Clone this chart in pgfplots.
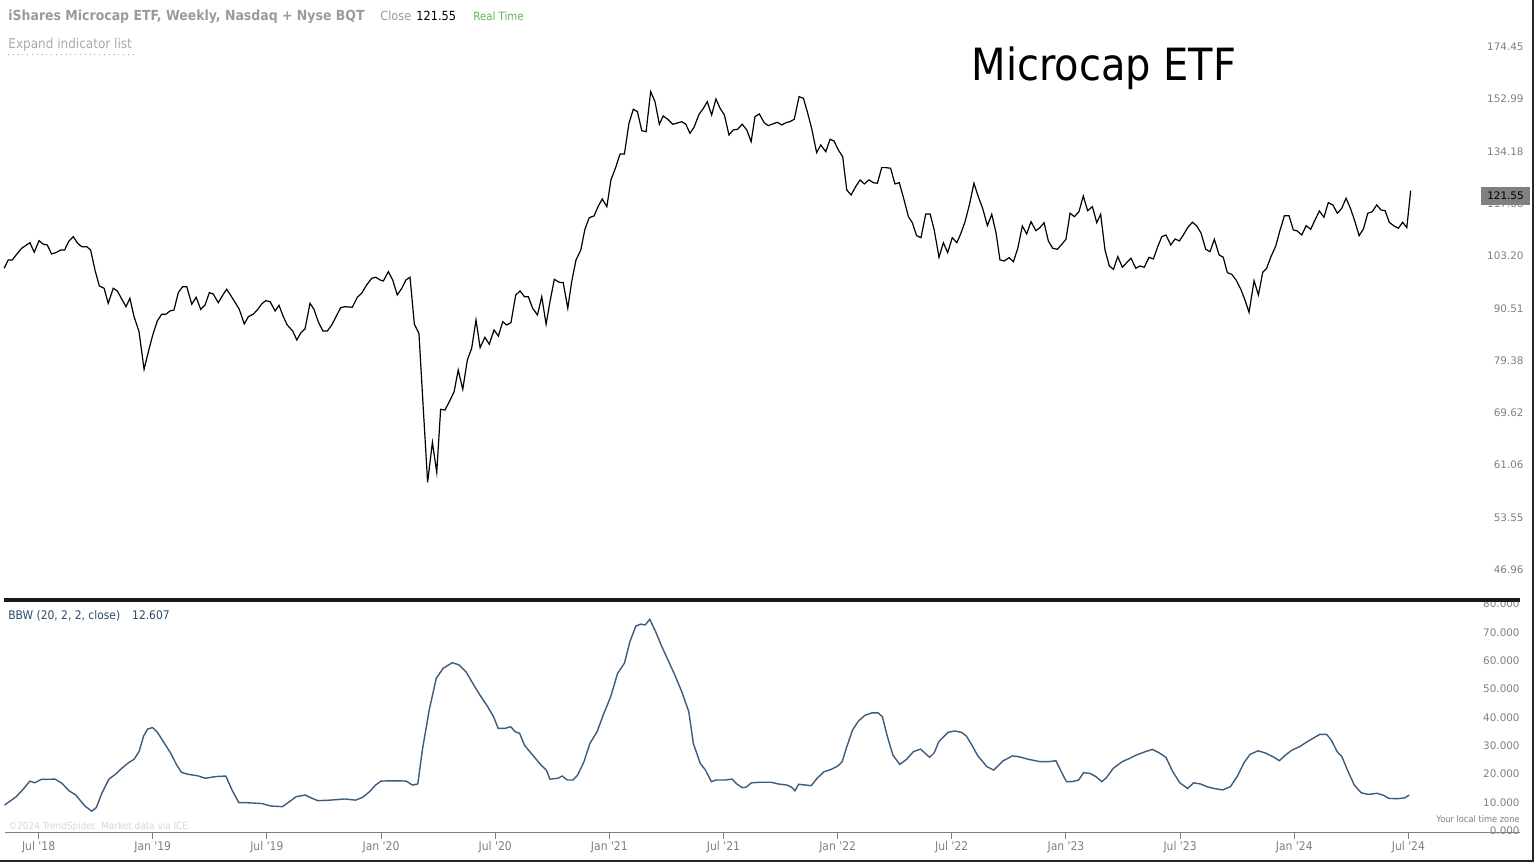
\documentclass[border=0pt]{standalone}
\usepackage{fontspec}
\setmainfont{DejaVu Sans}
\newfontfamily\cond{DejaVu Sans Condensed}
\usepackage{pgfplots}
\pgfplotsset{compat=1.18}
\usepackage{pgfplotstable}
\definecolor{lblgray}{RGB}{128,128,128}
\definecolor{hdrgray}{RGB}{155,155,155}
\definecolor{expgray}{RGB}{170,170,170}
\definecolor{bbwblue}{RGB}{60,92,125}
\definecolor{bbwtext}{RGB}{45,75,105}
\definecolor{rtgreen}{RGB}{100,180,90}
\definecolor{boxgray}{RGB}{128,128,128}
\definecolor{copygray}{RGB}{215,215,215}
\pgfplotstableread{
t p
2018.349 100.06
2018.367 102.17
2018.385 102.17
2018.404 103.64
2018.426 105.21
2018.462 106.70
2018.481 104.16
2018.502 107.24
2018.521 106.28
2018.538 106.09
2018.557 103.72
2018.576 104.06
2018.597 104.77
2018.614 104.77
2018.633 107.16
2018.652 108.32
2018.671 106.54
2018.689 105.64
2018.711 105.64
2018.728 104.77
2018.747 99.64
2018.766 95.72
2018.787 95.17
2018.805 91.65
2018.827 95.17
2018.845 94.52
2018.864 92.64
2018.883 90.87
2018.900 92.81
2018.918 88.62
2018.940 85.35
2018.962 77.66
2018.981 81.17
2019.000 84.64
2019.020 87.67
2019.039 89.15
2019.057 89.15
2019.076 89.90
2019.093 90.12
2019.112 94.12
2019.131 95.55
2019.149 95.55
2019.171 91.42
2019.190 93.04
2019.210 90.28
2019.229 91.26
2019.248 94.12
2019.265 93.81
2019.287 91.79
2019.307 93.58
2019.324 94.93
2019.343 93.34
2019.363 91.65
2019.379 90.28
2019.401 87.01
2019.419 88.62
2019.441 89.22
2019.458 90.12
2019.477 91.49
2019.495 92.25
2019.514 92.02
2019.536 89.90
2019.553 91.19
2019.572 88.62
2019.589 86.79
2019.613 85.49
2019.631 83.59
2019.649 85.13
2019.667 85.93
2019.689 91.65
2019.706 90.28
2019.725 87.51
2019.745 85.49
2019.765 85.49
2019.784 86.79
2019.803 88.62
2019.823 90.64
2019.842 90.87
2019.874 90.73
2019.896 93.04
2019.915 93.98
2019.937 95.96
2019.959 97.58
2019.977 97.83
2019.996 97.17
2020.010 96.92
2020.032 99.21
2020.051 97.17
2020.071 93.58
2020.091 95.17
2020.109 97.17
2020.127 97.83
2020.146 86.94
2020.166 85.00
2020.185 70.42
2020.204 58.49
2020.225 64.66
2020.244 59.97
2020.261 70.24
2020.280 70.12
2020.299 71.59
2020.320 73.41
2020.338 77.52
2020.358 73.86
2020.378 79.49
2020.397 81.86
2020.416 87.89
2020.434 81.99
2020.455 84.15
2020.474 82.69
2020.495 85.71
2020.514 84.43
2020.533 87.51
2020.550 86.79
2020.569 87.29
2020.590 93.58
2020.609 94.52
2020.628 93.18
2020.645 93.18
2020.664 90.51
2020.685 89.00
2020.704 93.18
2020.723 86.94
2020.740 92.02
2020.759 97.34
2020.780 96.61
2020.798 96.51
2020.818 90.51
2020.835 96.75
2020.854 102.17
2020.875 104.77
2020.893 110.35
2020.912 113.61
2020.933 114.10
2020.952 117.00
2020.969 119.07
2020.989 116.79
2021.007 124.89
2021.028 128.93
2021.047 133.30
2021.066 133.30
2021.086 143.98
2021.105 149.13
2021.123 148.23
2021.142 141.33
2021.161 140.97
2021.181 155.86
2021.200 152.00
2021.219 143.62
2021.236 146.64
2021.256 145.43
2021.278 143.62
2021.295 143.98
2021.317 144.56
2021.335 143.62
2021.353 140.41
2021.371 142.54
2021.393 147.27
2021.412 149.50
2021.429 152.00
2021.448 147.01
2021.467 153.03
2021.485 149.50
2021.504 147.01
2021.524 139.81
2021.543 141.58
2021.562 141.83
2021.582 143.62
2021.602 141.58
2021.621 137.48
2021.638 146.38
2021.657 147.38
2021.678 144.20
2021.696 143.11
2021.716 143.73
2021.736 144.34
2021.755 143.37
2021.774 144.20
2021.791 144.56
2021.810 145.43
2021.831 153.92
2021.850 153.30
2021.867 148.23
2021.886 142.18
2021.908 133.74
2021.926 136.35
2021.948 134.07
2021.967 138.31
2021.984 137.72
2022.003 134.65
2022.022 132.40
2022.040 121.79
2022.059 120.27
2022.079 122.80
2022.098 124.89
2022.117 123.64
2022.137 124.89
2022.156 124.04
2022.174 123.85
2022.193 128.80
2022.212 128.80
2022.232 128.61
2022.251 123.64
2022.270 124.04
2022.291 118.77
2022.310 113.90
2022.327 112.19
2022.346 108.59
2022.365 108.05
2022.386 114.67
2022.405 114.67
2022.423 110.16
2022.444 102.86
2022.463 106.70
2022.482 104.06
2022.502 108.05
2022.522 106.70
2022.540 109.25
2022.558 112.48
2022.577 117.29
2022.597 123.85
2022.616 119.76
2022.635 116.32
2022.656 111.35
2022.675 114.58
2022.694 109.25
2022.711 102.17
2022.730 101.91
2022.751 102.76
2022.770 101.73
2022.789 105.21
2022.809 111.27
2022.828 109.06
2022.847 112.48
2022.868 109.96
2022.886 110.80
2022.904 112.19
2022.923 107.16
2022.942 105.21
2022.962 104.95
2022.982 106.28
2023.000 107.62
2023.018 114.87
2023.037 113.90
2023.057 115.33
2023.076 119.97
2023.095 115.62
2023.116 116.79
2023.135 112.19
2023.152 114.58
2023.171 104.77
2023.190 100.64
2023.208 99.81
2023.227 103.02
2023.247 100.31
2023.266 101.48
2023.285 102.61
2023.306 100.06
2023.324 100.64
2023.343 100.31
2023.364 102.86
2023.383 102.43
2023.402 105.64
2023.420 108.32
2023.438 108.78
2023.459 106.09
2023.478 107.70
2023.497 107.16
2023.514 108.78
2023.533 110.80
2023.554 112.31
2023.573 111.27
2023.592 109.25
2023.612 104.95
2023.631 104.32
2023.650 107.62
2023.671 103.46
2023.689 102.86
2023.707 98.96
2023.726 98.57
2023.745 97.17
2023.766 94.93
2023.784 92.41
2023.802 89.60
2023.824 97.00
2023.843 93.58
2023.862 99.06
2023.879 100.06
2023.898 103.02
2023.919 105.82
2023.938 110.16
2023.957 114.18
2023.977 114.18
2023.996 110.16
2024.013 109.88
2024.033 108.78
2024.052 111.35
2024.072 110.35
2024.091 112.96
2024.110 115.54
2024.130 113.72
2024.149 117.97
2024.169 117.29
2024.189 114.87
2024.208 116.32
2024.227 119.28
2024.247 116.12
2024.266 112.48
2024.284 108.59
2024.303 110.43
2024.322 114.87
2024.342 115.33
2024.361 117.29
2024.380 115.83
2024.398 115.62
2024.416 112.31
2024.437 111.27
2024.456 110.63
2024.475 112.31
2024.493 110.80
2024.510 121.55
}\pricedata
\pgfplotstableread{
t v
2018.351 9.06
2018.402 12.0
2018.432 14.6
2018.462 17.5
2018.482 16.9
2018.512 18.1
2018.572 18.2
2018.603 16.7
2018.633 14.1
2018.663 12.6
2018.703 8.7
2018.733 6.9
2018.753 8.2
2018.777 13.2
2018.808 18.2
2018.838 20.0
2018.864 22.0
2018.894 24.0
2018.918 25.2
2018.940 27.9
2018.960 33.4
2018.978 35.9
2018.999 36.4
2019.019 34.9
2019.047 31.4
2019.079 27.3
2019.105 23.2
2019.126 20.6
2019.155 19.9
2019.196 19.4
2019.230 18.5
2019.276 19.1
2019.320 19.3
2019.347 14.4
2019.377 9.9
2019.407 9.9
2019.477 9.6
2019.518 8.7
2019.568 8.5
2019.598 10.2
2019.628 12.0
2019.668 12.6
2019.688 11.8
2019.723 10.6
2019.779 10.8
2019.840 11.2
2019.889 10.8
2019.920 11.8
2019.950 13.8
2019.976 16.1
2020.000 17.5
2020.031 17.6
2020.080 17.6
2020.111 17.5
2020.137 16.1
2020.161 16.5
2020.181 28.5
2020.211 42.6
2020.242 53.8
2020.272 57.3
2020.312 59.3
2020.342 58.5
2020.372 56.1
2020.402 52.0
2020.433 47.9
2020.467 43.8
2020.493 40.2
2020.513 36.1
2020.543 36.1
2020.568 36.7
2020.588 34.9
2020.607 34.4
2020.628 30.2
2020.664 26.7
2020.704 22.9
2020.724 21.4
2020.740 18.2
2020.774 18.5
2020.794 19.3
2020.815 17.9
2020.841 17.9
2020.861 19.6
2020.889 24.4
2020.915 30.8
2020.946 34.9
2020.976 41.4
2021.006 47.3
2021.036 55.5
2021.066 59.1
2021.090 66.7
2021.116 72.2
2021.137 72.9
2021.157 72.6
2021.177 74.6
2021.203 70.2
2021.227 65.5
2021.257 60.2
2021.287 54.9
2021.317 49.1
2021.348 42.0
2021.368 30.8
2021.398 23.8
2021.421 21.4
2021.447 17.3
2021.468 17.9
2021.508 17.9
2021.538 18.2
2021.558 16.5
2021.582 15.2
2021.598 15.3
2021.622 16.9
2021.659 17.1
2021.709 17.1
2021.739 16.5
2021.779 16.1
2021.799 15.3
2021.813 14.1
2021.829 16.4
2021.860 16.1
2021.884 15.9
2021.910 18.5
2021.940 20.8
2021.970 21.6
2022.000 22.8
2022.020 24.4
2022.040 29.6
2022.065 35.5
2022.091 38.7
2022.121 40.8
2022.151 41.6
2022.177 41.6
2022.196 40.2
2022.218 33.2
2022.242 26.7
2022.272 23.4
2022.302 25.2
2022.332 27.9
2022.363 28.8
2022.403 25.9
2022.423 27.5
2022.443 31.4
2022.483 34.7
2022.513 35.2
2022.543 34.7
2022.564 33.4
2022.588 30.2
2022.614 26.4
2022.654 22.6
2022.684 21.4
2022.724 24.6
2022.765 26.4
2022.795 26.1
2022.835 25.2
2022.885 24.4
2022.926 24.4
2022.956 24.7
2022.976 21.4
2023.002 17.3
2023.026 17.3
2023.056 17.9
2023.077 20.5
2023.106 20.2
2023.131 19.1
2023.157 17.3
2023.177 18.7
2023.207 22.0
2023.247 24.4
2023.278 25.5
2023.308 26.7
2023.348 27.9
2023.378 28.7
2023.408 27.5
2023.438 25.9
2023.468 20.8
2023.499 16.9
2023.533 14.9
2023.559 16.9
2023.589 16.5
2023.619 15.5
2023.649 14.9
2023.686 14.4
2023.720 15.5
2023.750 19.1
2023.780 24.0
2023.806 26.9
2023.841 28.2
2023.871 27.5
2023.907 26.1
2023.935 24.7
2023.961 26.7
2023.991 28.5
2024.022 29.6
2024.051 31.1
2024.082 32.6
2024.112 34.0
2024.142 34.0
2024.162 32.0
2024.188 27.9
2024.209 26.1
2024.233 21.4
2024.263 16.1
2024.293 13.4
2024.323 12.8
2024.363 13.2
2024.394 12.4
2024.414 11.4
2024.454 11.3
2024.484 11.6
2024.504 12.607
}\bbwdata
\begin{document}
\begin{tikzpicture}
\path[use as bounding box, fill=white] (0pt,0pt) rectangle (768.5pt,-431.5pt);
\begin{axis}[
  at={(0pt,0pt)}, anchor=north west,
  scale only axis, width=730pt, height=300pt,
  xmin=2018.331, xmax=2024.726,
  ymode=log, ymin=43.53, ymax=196.2,
  axis line style={draw=none},
  xtick=\empty,
  ytick={46.96,53.55,61.06,69.62,79.38,90.51,103.20,117.66,134.18,152.99,174.45},
  yticklabels={46.96,53.55,61.06,69.62,79.38,90.51,103.20,117.66,134.18,152.99,174.45},
  ytick pos=right, yticklabel pos=right,
  major tick length=0pt,
  yticklabel style={anchor=east, inner sep=0pt, xshift=32pt, font=\fontsize{5.2}{6}\selectfont, text=lblgray},
]
\addplot[black, line width=0.6pt] table[x=t,y=p] {\pricedata};
\end{axis}
\begin{axis}[
  at={(0pt,-300pt)}, anchor=north west,
  scale only axis, width=730pt, height=116pt,
  xmin=2018.331, xmax=2024.726,
  ymin=-0.46, ymax=81.41,
  axis line style={draw=none},
  xtick={2018.5,2019,2019.5,2020,2020.5,2021,2021.5,2022,2022.5,2023,2023.5,2024,2024.5},
  xticklabels={Jul '18,Jan '19,Jul '19,Jan '20,Jul '20,Jan '21,Jul '21,Jan '22,Jul '22,Jan '23,Jul '23,Jan '24,Jul '24},
  xtick pos=bottom, xtick align=outside,
  major tick length=3.25pt,
  xtick style={draw=lblgray, line width=0.5pt},
  xticklabel style={font=\cond\fontsize{6}{7}\selectfont, text=lblgray, inner sep=0pt, anchor=north, yshift=-1.2pt},
  ytick={0,10,20,30,40,50,60,70,80},
  yticklabels={0.000,10.000,20.000,30.000,40.000,50.000,60.000,70.000,80.000},
  ytick pos=right, yticklabel pos=right,
  ytick style={draw=none},
  yticklabel style={anchor=east, inner sep=0pt, xshift=30pt, font=\fontsize{5.2}{6}\selectfont, text=lblgray},
]
\addplot[bbwblue, line width=0.7pt] table[x=t,y=v] {\bbwdata};
\end{axis}
% panel decorations
\draw[line width=1.6pt, black!90] (2pt,-300pt) -- (760pt,-300pt);
\draw[lblgray, line width=0.5pt] (2.5pt,-416pt) -- (760pt,-416pt);
\draw[line width=1pt, black!85] (766.3pt,0pt) -- (766.3pt,-430.3pt) -- (0pt,-430.3pt);
% header texts
\node[anchor=base west, inner sep=0pt, text=hdrgray, font=\cond\bfseries\fontsize{6.95}{8}\selectfont] at (4pt,-10.2pt) {iShares Microcap ETF, Weekly, Nasdaq + Nyse BQT};
\node[anchor=base west, inner sep=0pt, text=hdrgray, font=\cond\fontsize{6.3}{7}\selectfont] at (190pt,-10.2pt) {Close};
\node[anchor=base west, inner sep=0pt, text=black, font=\cond\fontsize{6.3}{7}\selectfont] at (208pt,-10.2pt) {121.55};
\node[anchor=base west, inner sep=0pt, text=rtgreen, font=\cond\fontsize{5.7}{7}\selectfont] at (236.5pt,-10.2pt) {Real Time};
\node[anchor=base west, inner sep=0pt, text=expgray, font=\cond\fontsize{6.7}{8}\selectfont] at (4pt,-24.3pt) {Expand indicator list};
\draw[expgray, dotted, line width=0.4pt] (4pt,-27pt) -- (66.5pt,-27pt);
\node[anchor=base, inner sep=0pt, text=black, font=\cond\fontsize{22.2}{26}\selectfont] at (552pt,-40pt) {Microcap ETF};
% last price box
\node[fill=boxgray, inner sep=0pt, minimum width=24.5pt, minimum height=9pt, font=\fontsize{5.2}{6}\selectfont, text=black] at (752.75pt,-98pt) {121.55};
% lower panel texts
\node[anchor=base west, inner sep=0pt, text=bbwtext, font=\cond\fontsize{5.95}{7}\selectfont] at (4pt,-309.5pt) {BBW (20, 2, 2, close)};
\node[anchor=base west, inner sep=0pt, text=bbwtext, font=\cond\fontsize{5.95}{7}\selectfont] at (65.9pt,-309.5pt) {12.607};
\node[anchor=base west, inner sep=0pt, text=copygray, font=\cond\fontsize{4.95}{6}\selectfont] at (4pt,-414.5pt) {©2024 TrendSpider. Market data via ICE.};
\node[anchor=base east, inner sep=0pt, text=lblgray, font=\cond\fontsize{4.6}{6}\selectfont] at (760pt,-411.2pt) {Your local time zone};
\end{tikzpicture}
\end{document}
